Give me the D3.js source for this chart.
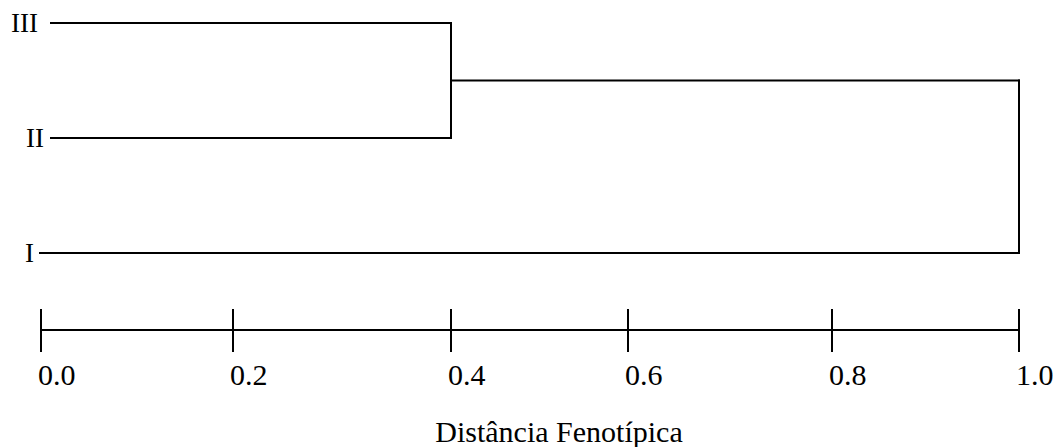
<!DOCTYPE html>
<html>
<head>
<meta charset="utf-8">
<script src="https://cdn.jsdelivr.net/npm/d3@7"></script>
<style>
  html, body { margin: 0; padding: 0; background: #fff; }
  svg { display: block; }
  text { font-family: "Liberation Serif", "Times New Roman", serif; fill: #000; }
</style>
</head>
<body>
<svg id="chart" width="1057" height="447"></svg>
<script>
// Leaves of the dendrogram, top to bottom
const leafNames = ["III", "II", "I"];
// Agglomeration steps: [left, right, distance]
const joinLeft = ["III", "III+II"];
const joinRight = ["II", "I"];
const joinDistances = [0.4, 1.0];
// Distance axis
const tickValues = [0.0, 0.2, 0.4, 0.6, 0.8, 1.0];
const tickLabels = ["0.0", "0.2", "0.4", "0.6", "0.8", "1.0"];
const axisTitle = "Distância Fenotípica";

const svg = d3.select("#chart");

// Hand-ruled distance scale: stops are not evenly spaced on the page
const axisStops = [41, 233, 451, 628, 832, 1019];
const x = d3.scaleLinear().domain(tickValues).range(axisStops);
const y = d3.scalePoint().domain(leafNames).range([23, 253]);

// Where each leaf's branch begins, and where its label ends
const leafStart = { "III": x(0) + 10, "II": x(0) + 10, "I": x(0) - 1 };
const labelEnd = { "III": 38, "II": 44, "I": 34 };

// Build node positions from the agglomeration steps
const nodes = {};
leafNames.forEach(n => { nodes[n] = { x: leafStart[n], y: y(n) }; });

const g = svg.append("g")
  .attr("fill", "none")
  .attr("stroke", "#000")
  .attr("stroke-width", 2)
  .attr("stroke-linecap", "square");

// Leaf branches are drawn up to their first join
joinLeft.forEach((a, i) => {
  const b = joinRight[i];
  const d = x(joinDistances[i]);
  const na = nodes[a], nb = nodes[b];
  g.append("path").attr("d", `M${na.x},${na.y}H${d}`);
  g.append("path").attr("d", `M${nb.x},${nb.y}H${d}`);
  g.append("path").attr("d", `M${d},${na.y}V${nb.y}`);
  nodes[a + "+" + b] = { x: d, y: (na.y + nb.y) / 2 };
});

// Leaf labels
svg.append("g").selectAll("text")
  .data(leafNames)
  .join("text")
  .attr("x", d => labelEnd[d])
  .attr("y", d => y(d) + 9)
  .attr("text-anchor", "end")
  .attr("font-size", 27)
  .text(d => d);

// Distance axis with long ticks through the baseline
const axisY = 330;
const ax = svg.append("g")
  .attr("stroke", "#000")
  .attr("stroke-width", 2);
ax.append("line")
  .attr("x1", x(tickValues[0])).attr("x2", x(tickValues[tickValues.length - 1]))
  .attr("y1", axisY).attr("y2", axisY);
ax.selectAll("line.tick")
  .data(tickValues)
  .join("line")
  .attr("class", "tick")
  .attr("x1", d => x(d)).attr("x2", d => x(d))
  .attr("y1", axisY - 21).attr("y2", axisY + 22);

svg.append("g").selectAll("text")
  .data(tickValues)
  .join("text")
  .attr("x", d => x(d) - 3)
  .attr("y", 385)
  .attr("font-size", 30)
  .text((d, i) => tickLabels[i]);

svg.append("text")
  .attr("x", 559)
  .attr("y", 442)
  .attr("text-anchor", "middle")
  .attr("font-size", 30)
  .text(axisTitle);
</script>
</body>
</html>
